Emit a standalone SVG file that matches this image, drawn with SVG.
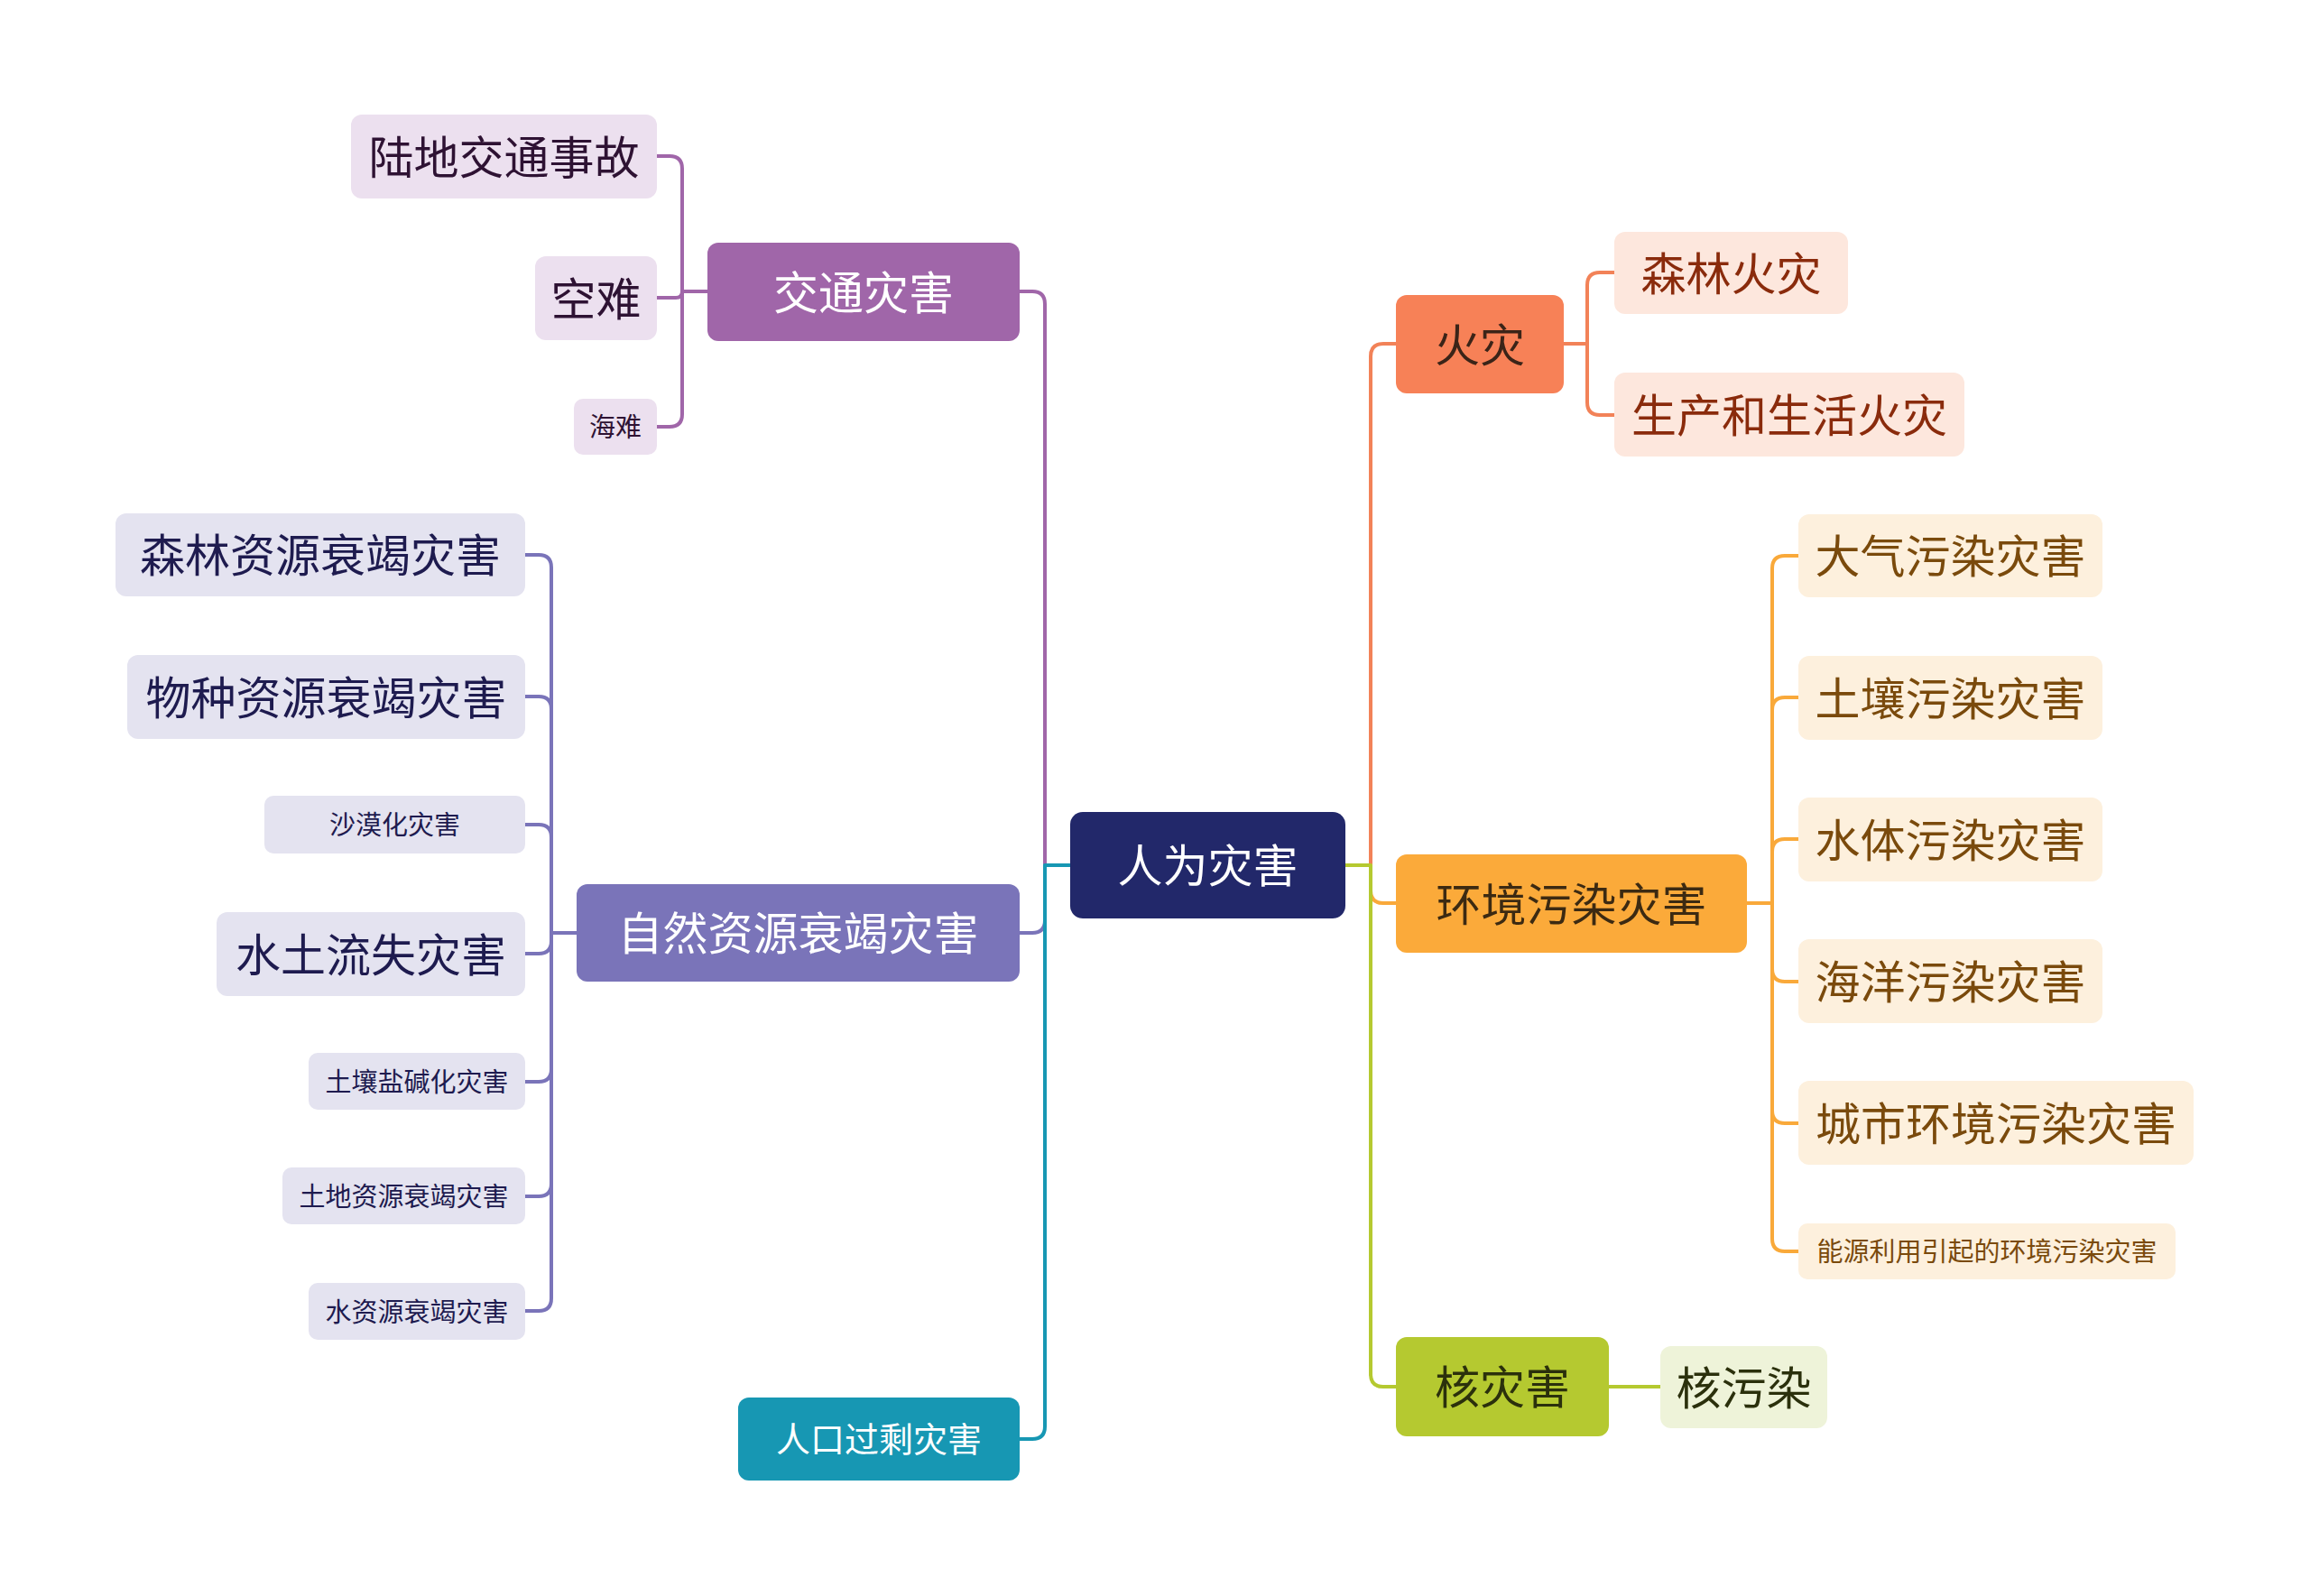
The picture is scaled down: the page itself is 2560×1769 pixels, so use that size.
<svg xmlns="http://www.w3.org/2000/svg" width="2560" height="1769" viewBox="0 0 2560 1769">
<style>
text{font-family:"Noto Sans CJK SC","Noto Sans",sans-serif;text-anchor:middle;dominant-baseline:central}
.c{fill:none;stroke-width:4;stroke-linecap:round;stroke-linejoin:round}
.f50{font-size:50px}.f29{font-size:29px}.f38{font-size:38px}
.w{fill:#ffffff}
</style>
<rect width="2560" height="1769" fill="#ffffff"/>
<g id="connectors">
<g stroke="#a066a9" class="c">
<path d="M1186 959 H1158 V337 Q1158 323 1144 323 H1130"/>
<path d="M784 323 H756 V187 Q756 173 742 173 H728"/>
<path d="M784 323 H756 Q756 330 749 330 H728"/>
<path d="M784 323 H756 V459 Q756 473 742 473 H728"/>
</g>
<g stroke="#7a74b9" class="c">
<path d="M1186 959 H1158 V1020 Q1158 1034 1144 1034 H1130"/>
<path d="M639 1034 H611 V629 Q611 615 597 615 H582"/>
<path d="M639 1034 H611 V786 Q611 772 597 772 H582"/>
<path d="M639 1034 H611 V928 Q611 914 597 914 H582"/>
<path d="M639 1034 H611 V1043 Q611 1057 597 1057 H582"/>
<path d="M639 1034 H611 V1185 Q611 1199 597 1199 H582"/>
<path d="M639 1034 H611 V1312 Q611 1326 597 1326 H582"/>
<path d="M639 1034 H611 V1439 Q611 1453 597 1453 H582"/>
</g>
<g stroke="#1797b3" class="c">
<path d="M1186 959 H1158 V1581 Q1158 1595 1144 1595 H1130"/>
</g>
<g stroke="#f28258" class="c">
<path d="M1491 959 H1519 V395 Q1519 381 1533 381 H1547"/>
<path d="M1733 381 H1759 V316 Q1759 302 1773 302 H1789"/>
<path d="M1733 381 H1759 V446 Q1759 460 1773 460 H1789"/>
</g>
<g stroke="#f9a93a" class="c">
<path d="M1491 959 H1519 V987 Q1519 1001 1533 1001 H1547"/>
<path d="M1936 1001 H1964 V630 Q1964 616 1978 616 H1993"/>
<path d="M1936 1001 H1964 V787 Q1964 773 1978 773 H1993"/>
<path d="M1936 1001 H1964 V944 Q1964 930 1978 930 H1993"/>
<path d="M1936 1001 H1964 V1074 Q1964 1088 1978 1088 H1993"/>
<path d="M1936 1001 H1964 V1231 Q1964 1245 1978 1245 H1993"/>
<path d="M1936 1001 H1964 V1373 Q1964 1387 1978 1387 H1993"/>
</g>
<g stroke="#b5c930" class="c">
<path d="M1491 959 H1519 V1523 Q1519 1537 1533 1537 H1547"/>
<path d="M1783 1537 H1840"/>
</g>
</g>

<g id="root"><rect x="1186" y="900" width="305" height="118" rx="14" fill="#22286a"/><text x="1338.5" y="956" class="f50 w">人为灾害</text></g>

<g id="n-jiaotong"><rect x="784" y="269" width="346" height="109" rx="12" fill="#a066a9"/><text x="957" y="320.5" class="f50 w">交通灾害</text></g>
<g id="n-ludi"><rect x="389" y="127" width="339" height="93" rx="12" fill="#ece0ef"/><text x="558.5" y="170.5" class="f50" fill="#2e1233">陆地交通事故</text></g>
<g id="n-kongnan"><rect x="593" y="284" width="135" height="93" rx="12" fill="#ece0ef"/><text x="660.5" y="327.5" class="f50" fill="#2e1233">空难</text></g>
<g id="n-hainan"><rect x="636" y="442" width="92" height="62" rx="10" fill="#ece0ef"/><text x="682" y="471" class="f29" fill="#2e1233">海难</text></g>

<g id="n-ziran"><rect x="639" y="980" width="491" height="108" rx="12" fill="#7a74b9"/><text x="884.5" y="1031" class="f50 w">自然资源衰竭灾害</text></g>
<g id="n-senlinzy"><rect x="128" y="569" width="454" height="92" rx="12" fill="#e4e3f0"/><text x="355" y="612" class="f50" fill="#1e1b4f">森林资源衰竭灾害</text></g>
<g id="n-wuzhong"><rect x="141" y="726" width="441" height="93" rx="12" fill="#e4e3f0"/><text x="361.5" y="769.5" class="f50" fill="#1e1b4f">物种资源衰竭灾害</text></g>
<g id="n-shamo"><rect x="293" y="882" width="289" height="64" rx="10" fill="#e4e3f0"/><text x="437.5" y="912" class="f29" fill="#1e1b4f">沙漠化灾害</text></g>
<g id="n-shuitu"><rect x="240" y="1011" width="342" height="93" rx="12" fill="#e4e3f0"/><text x="411" y="1054.5" class="f50" fill="#1e1b4f">水土流失灾害</text></g>
<g id="n-yanjian"><rect x="342" y="1167" width="240" height="63" rx="10" fill="#e4e3f0"/><text x="462" y="1196.5" class="f29" fill="#1e1b4f">土壤盐碱化灾害</text></g>
<g id="n-tudi"><rect x="313" y="1294" width="269" height="63" rx="10" fill="#e4e3f0"/><text x="447.5" y="1323.5" class="f29" fill="#1e1b4f">土地资源衰竭灾害</text></g>
<g id="n-shuizy"><rect x="342" y="1422" width="240" height="63" rx="10" fill="#e4e3f0"/><text x="462" y="1451.5" class="f29" fill="#1e1b4f">水资源衰竭灾害</text></g>

<g id="n-renkou"><rect x="818" y="1549" width="312" height="92" rx="12" fill="#1797b3"/><text x="974" y="1592.5" class="f38 w">人口过剩灾害</text></g>

<g id="n-huozai"><rect x="1547" y="327" width="186" height="109" rx="12" fill="#f78157"/><text x="1640" y="378.5" class="f50" fill="#3b2418">火灾</text></g>
<g id="n-senlinhz"><rect x="1789" y="257" width="259" height="91" rx="12" fill="#fde7dd"/><text x="1918.5" y="299.5" class="f50" fill="#8a2b0c">森林火灾</text></g>
<g id="n-shengchan"><rect x="1789" y="413" width="388" height="93" rx="12" fill="#fde7dd"/><text x="1983" y="456.5" class="f50" fill="#8a2b0c">生产和生活火灾</text></g>

<g id="n-huanjing"><rect x="1547" y="947" width="389" height="109" rx="12" fill="#fbaa3a"/><text x="1741.5" y="998.5" class="f50" fill="#3c2a12">环境污染灾害</text></g>
<g id="n-daqi"><rect x="1993" y="570" width="337" height="92" rx="12" fill="#fdf0dd"/><text x="2161.5" y="613" class="f50" fill="#7a4a0c">大气污染灾害</text></g>
<g id="n-turang"><rect x="1993" y="727" width="337" height="93" rx="12" fill="#fdf0dd"/><text x="2161.5" y="770.5" class="f50" fill="#7a4a0c">土壤污染灾害</text></g>
<g id="n-shuiti"><rect x="1993" y="884" width="337" height="93" rx="12" fill="#fdf0dd"/><text x="2161.5" y="927.5" class="f50" fill="#7a4a0c">水体污染灾害</text></g>
<g id="n-haiyang"><rect x="1993" y="1041" width="337" height="93" rx="12" fill="#fdf0dd"/><text x="2161.5" y="1084.5" class="f50" fill="#7a4a0c">海洋污染灾害</text></g>
<g id="n-chengshi"><rect x="1993" y="1198" width="438" height="93" rx="12" fill="#fdf0dd"/><text x="2212" y="1241.5" class="f50" fill="#7a4a0c">城市环境污染灾害</text></g>
<g id="n-nengyuan"><rect x="1993" y="1356" width="418" height="62" rx="10" fill="#fdf0dd"/><text x="2202" y="1385" class="f29" fill="#7a4a0c">能源利用引起的环境污染灾害</text></g>

<g id="n-he"><rect x="1547" y="1482" width="236" height="110" rx="12" fill="#b5c930"/><text x="1665" y="1534" class="f50" fill="#2b300c">核灾害</text></g>
<g id="n-hewuran"><rect x="1840" y="1492" width="185" height="91" rx="12" fill="#eef3d9"/><text x="1932.5" y="1534.5" class="f50" fill="#2b300c">核污染</text></g>
</svg>
